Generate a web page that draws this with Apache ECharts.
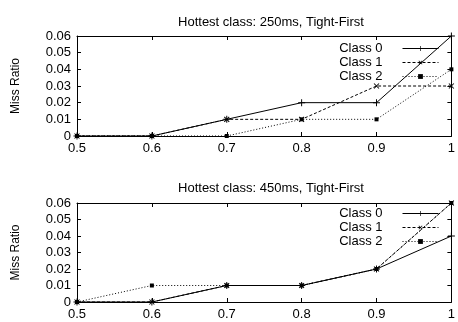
<!DOCTYPE html>
<html>
<head>
<meta charset="utf-8">
<script src="https://cdn.jsdelivr.net/npm/echarts@6/dist/echarts.min.js"></script>
<style>
  html, body { margin: 0; padding: 0; background: #fff; }
  #main { width: 458px; height: 322px; }
</style>
</head>
<body>
<div id="main"></div>
<script>
  // x positions (utilisation)
  var xs = [0.5, 0.6, 0.7, 0.8, 0.9, 1.0]
  var classNames = ['Class 0', 'Class 1', 'Class 2']
  var titles = ['Hottest class: 250ms, Tight-First', 'Hottest class: 450ms, Tight-First']

  // top plot: 250ms
  var top0 = [0, 0, 0.01, 0.02, 0.02, 0.06]
  var top1 = [0, 0, 0.01, 0.01, 0.03, 0.03]
  var top2 = [0, 0, 0, 0.01, 0.01, 0.04]
  // bottom plot: 450ms
  var bot0 = [0, 0, 0.01, 0.01, 0.02, 0.04]
  var bot1 = [0, 0, 0.01, 0.01, 0.02, 0.06]
  var bot2 = [0, 0.01, 0.01, 0.01, 0.02, 0.06]

  var font = 'Liberation Sans, Arial, sans-serif'
  var plusPath = 'path://M4.3,0H5.7V10H4.3ZM0,4.3H10V5.7H0Z'

  var styles = [
    { type: 'solid', symbol: plusPath, rotate: 0, size: 7 },
    { type: [3, 2], symbol: plusPath, rotate: 45, size: 7 },
    { type: [1, 2], symbol: 'rect', rotate: 0, size: 4 }
  ]

  function pairs(vals) {
    return xs.map(function (x, i) { return [x, vals[i]] })
  }

  function mkSeries(name, vals, idx, axis) {
    var s = styles[idx]
    return {
      name: name,
      type: 'line',
      xAxisIndex: axis,
      yAxisIndex: axis,
      data: pairs(vals),
      symbol: s.symbol,
      symbolSize: s.size,
      symbolRotate: s.rotate,
      showAllSymbol: true,
      animation: false,
      z: 3 - idx,
      lineStyle: { color: '#000', width: 1, type: s.type },
      itemStyle: { color: '#000' }
    }
  }

  var grids = [
    { left: 77, right: 3, top: 36, height: 100 },
    { left: 77, right: 3, top: 203, height: 99 }
  ]

  function xAxisFor(g, mirror) {
    return {
      type: 'value', gridIndex: g, min: 0.5, max: 1, interval: 0.1,
      position: mirror ? 'top' : 'bottom',
      axisLine: { show: true, onZero: false, lineStyle: { color: '#000', width: 1 } },
      axisTick: { show: true, inside: true, length: 4, lineStyle: { color: '#000' } },
      axisLabel: {
        show: !mirror, color: '#000', fontFamily: font, fontSize: 13, margin: 6,
        formatter: function (v) { return String(+v.toFixed(1)) }
      },
      splitLine: { show: false }
    }
  }

  function yAxisFor(g, mirror) {
    return {
      type: 'value', gridIndex: g, min: 0, max: 0.06, interval: 0.01,
      position: mirror ? 'right' : 'left',
      name: mirror ? '' : 'Miss Ratio',
      nameLocation: 'middle', nameGap: 55, nameRotate: 90,
      nameTextStyle: { color: '#000', fontFamily: font, fontSize: 12 },
      axisLine: { show: true, onZero: false, lineStyle: { color: '#000', width: 1 } },
      axisTick: { show: true, inside: true, length: 4, lineStyle: { color: '#000' } },
      axisLabel: {
        show: !mirror, color: '#000', fontFamily: font, fontSize: 13, margin: 6,
        formatter: function (v) { return String(+v.toFixed(2)) }
      },
      splitLine: { show: false }
    }
  }

  var series = [
    mkSeries(classNames[0], top0, 0, 0),
    mkSeries(classNames[1], top1, 1, 0),
    mkSeries(classNames[2], top2, 2, 0),
    mkSeries(classNames[0], bot0, 0, 2),
    mkSeries(classNames[1], bot1, 1, 2),
    mkSeries(classNames[2], bot2, 2, 2)
  ]

  function legendAt(top) {
    return {
      orient: 'vertical', right: 19, top: top, align: 'right', padding: 0,
      itemWidth: 36, itemHeight: 6, itemGap: 1,
      data: classNames,
      symbolRotate: 'inherit',
      lineStyle: { width: 1 },
      textStyle: { color: '#000', fontFamily: font, fontSize: 13, lineHeight: 12, padding: [0, 15, 0, 0] },
      selectedMode: false
    }
  }

  var myChart = echarts.init(document.getElementById('main'))
  var option = {
    backgroundColor: '#fff',
    title: [
      { text: titles[0], left: 266, top: 11, textAlign: 'center',
        textStyle: { color: '#000', fontFamily: font, fontSize: 13, fontWeight: 'normal' } },
      { text: titles[1], left: 266, top: 177, textAlign: 'center',
        textStyle: { color: '#000', fontFamily: font, fontSize: 13, fontWeight: 'normal' } }
    ],
    legend: [legendAt(42), legendAt(207)],
    grid: grids,
    xAxis: [xAxisFor(0, false), xAxisFor(0, true), xAxisFor(1, false), xAxisFor(1, true)],
    yAxis: [yAxisFor(0, false), yAxisFor(0, true), yAxisFor(1, false), yAxisFor(1, true)],
    series: series
  }
  myChart.setOption(option)
</script>
</body>
</html>
